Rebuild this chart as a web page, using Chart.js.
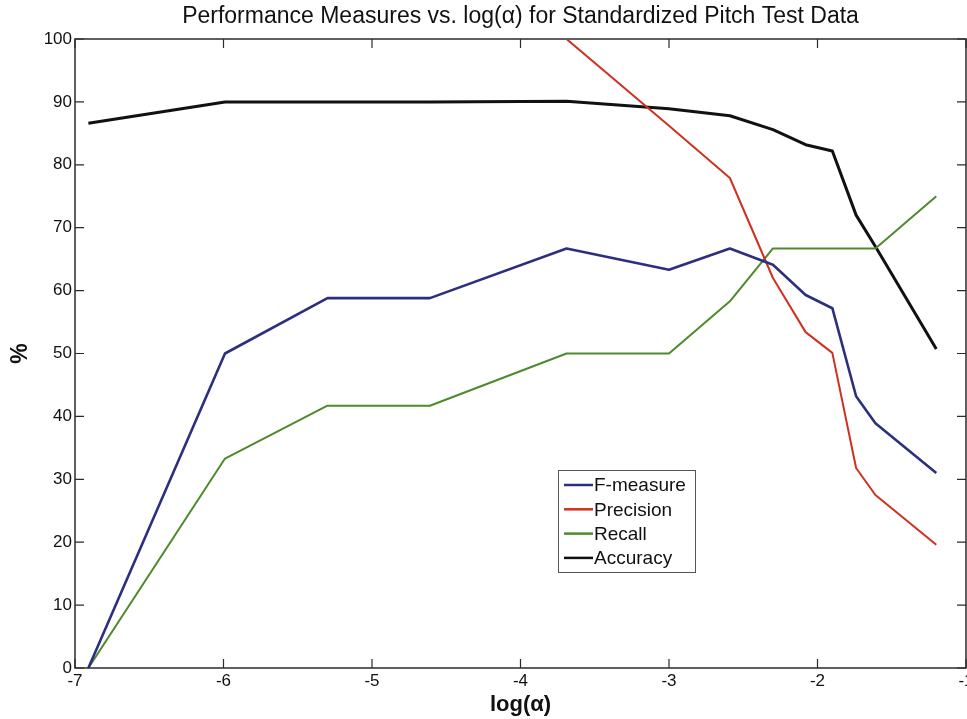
<!DOCTYPE html>
<html>
<head>
<meta charset="utf-8">
<script src="https://cdn.jsdelivr.net/npm/chart.js@4/dist/chart.umd.min.js"></script>
<style>
  html, body { margin: 0; padding: 0; background: #fff; }
  #wrap { width: 967px; height: 719px; position: relative; }
</style>
</head>
<body>
<div id="wrap"><canvas id="chart"></canvas></div>
<script>
// log(alpha) sample positions
const logAlpha = [-6.91, -5.99, -5.30, -4.61, -3.69, -3.00, -2.59, -2.30, -2.08, -1.90, -1.74, -1.61, -1.20];

// performance measures (%) at each log(alpha)
const fMeasure  = [0, 50.0, 58.8, 58.8, 66.7, 63.3, 66.7, 64.1, 59.3, 57.2, 43.2, 38.9, 31.0];
const precision = [null, 100, 100, 100, 100, 86.2, 77.9, 62.0, 53.4, 50.1, 31.8, 27.5, 19.6];
const recall    = [0, 33.3, 41.7, 41.7, 50.0, 50.0, 58.3, 66.7, 66.7, 66.7, 66.7, 66.7, 75.0];
const accuracy  = [86.6, 90.0, 90.0, 90.0, 90.1, 88.9, 87.8, 85.6, 83.2, 82.2, 72.0, 67.0, 50.7];

// axis tick values
const xTicks = [-7, -6, -5, -4, -3, -2, -1];
const yTicks = [0, 10, 20, 30, 40, 50, 60, 70, 80, 90, 100];

const chartTitle = 'Performance Measures vs. log(\u03B1) for Standardized Pitch Test Data';

const FONT = "'Liberation Sans', Arial, Helvetica, sans-serif";

function points(values) {
  return logAlpha.map((x, i) => ({ x: x, y: values[i] }));
}

// title centred over the plot area
const plotTitlePlugin = {
  id: 'plotTitle',
  afterDraw(chart) {
    const { ctx, chartArea: a } = chart;
    ctx.save();
    ctx.font = '23px ' + FONT;
    ctx.fillStyle = '#111';
    ctx.textAlign = 'center';
    ctx.textBaseline = 'middle';
    ctx.fillText(chartTitle, (a.left + a.right) / 2, a.top - 22);
    ctx.restore();
  }
};

// box frame with inward tick marks on all four sides, drawn over the lines
const framePlugin = {
  id: 'frame',
  afterDatasetsDraw(chart) {
    const { ctx, chartArea: a, scales } = chart;
    const len = 9;
    ctx.save();
    ctx.strokeStyle = '#2b2b2b';
    ctx.lineWidth = 1.5;
    ctx.strokeRect(a.left, a.top, a.right - a.left, a.bottom - a.top);
    ctx.lineWidth = 1.2;
    ctx.beginPath();
    xTicks.forEach(v => {
      const px = scales.x.getPixelForValue(v);
      ctx.moveTo(px, a.bottom); ctx.lineTo(px, a.bottom - len);
      ctx.moveTo(px, a.top);    ctx.lineTo(px, a.top + len);
    });
    yTicks.forEach(v => {
      const py = scales.y.getPixelForValue(v);
      ctx.moveTo(a.left, py);  ctx.lineTo(a.left + len, py);
      ctx.moveTo(a.right, py); ctx.lineTo(a.right - len, py);
    });
    ctx.stroke();
    ctx.restore();
  }
};

// boxed legend placed inside the plot area
const boxLegendPlugin = {
  id: 'boxLegend',
  afterDraw(chart) {
    const { ctx, scales } = chart;
    const left = Math.round(scales.x.getPixelForValue(-3.75));
    const top = Math.round(scales.y.getPixelForValue(31.5));
    const w = 137, rowH = 24.3, h = 102;
    ctx.save();
    ctx.fillStyle = '#fff';
    ctx.fillRect(left, top, w, h);
    ctx.strokeStyle = '#555';
    ctx.lineWidth = 1;
    ctx.strokeRect(left + 0.5, top + 0.5, w, h);
    ctx.font = '19px ' + FONT;
    ctx.textBaseline = 'middle';
    chart.data.datasets.forEach((ds, i) => {
      const y = top + 15 + i * rowH;
      ctx.strokeStyle = ds.borderColor;
      ctx.lineWidth = 2.5;
      ctx.beginPath();
      ctx.moveTo(left + 6, y);
      ctx.lineTo(left + 35, y);
      ctx.stroke();
      ctx.fillStyle = '#111';
      ctx.fillText(ds.label, left + 36, y + 1);
    });
    ctx.restore();
  }
};

new Chart(document.getElementById('chart'), {
  type: 'line',
  data: {
    datasets: [
      { label: 'F-measure', data: points(fMeasure),  borderColor: '#2c2f80', borderWidth: 2.6 },
      { label: 'Precision', data: points(precision), borderColor: '#d0301f', borderWidth: 2.0, clip: { left: 3, right: 3, top: -1, bottom: 3 } },
      { label: 'Recall',    data: points(recall),    borderColor: '#4e8a2c', borderWidth: 2.0 },
      { label: 'Accuracy',  data: points(accuracy),  borderColor: '#111111', borderWidth: 3.0 }
    ]
  },
  options: {
    responsive: true,
    maintainAspectRatio: false,
    animation: false,
    devicePixelRatio: 1,
    layout: { padding: { top: 39, right: 1, bottom: 0, left: 0 } },
    elements: {
      point: { radius: 0, hoverRadius: 0 },
      line: { tension: 0, fill: false, borderJoinStyle: 'round' }
    },
    plugins: {
      legend: { display: false },
      tooltip: { enabled: false },
      title: { display: false }
    },
    scales: {
      x: {
        type: 'linear',
        min: -7, max: -1,
        grid: { display: false, drawTicks: false },
        border: { display: false },
        afterBuildTicks(s) { s.ticks = xTicks.map(v => ({ value: v })); },
        afterFit(s) { s.height = 51; s.paddingLeft = 0; s.paddingRight = 0; },
        ticks: {
          color: '#111', padding: 3, maxRotation: 0, autoSkip: false,
          font: { family: FONT, size: 17 },
          callback: v => String(v)
        },
        title: {
          display: true, text: 'log(\u03B1)', color: '#111',
          font: { family: FONT, size: 22, weight: 'bold' },
          padding: { top: 0, bottom: 1 }
        }
      },
      y: {
        type: 'linear',
        min: 0, max: 100,
        grid: { display: false, drawTicks: false },
        border: { display: false },
        afterBuildTicks(s) { s.ticks = yTicks.map(v => ({ value: v })); },
        afterFit(s) { s.width = 75; s.paddingTop = 0; s.paddingBottom = 0; },
        ticks: {
          color: '#111', padding: 3, autoSkip: false,
          font: { family: FONT, size: 17 },
          callback: v => String(v)
        },
        title: {
          display: true, text: '%', color: '#111',
          font: { family: FONT, size: 23, weight: 'bold' },
          padding: { top: 7, bottom: 0 }
        }
      }
    }
  },
  plugins: [framePlugin, boxLegendPlugin, plotTitlePlugin]
});
</script>
</body>
</html>
